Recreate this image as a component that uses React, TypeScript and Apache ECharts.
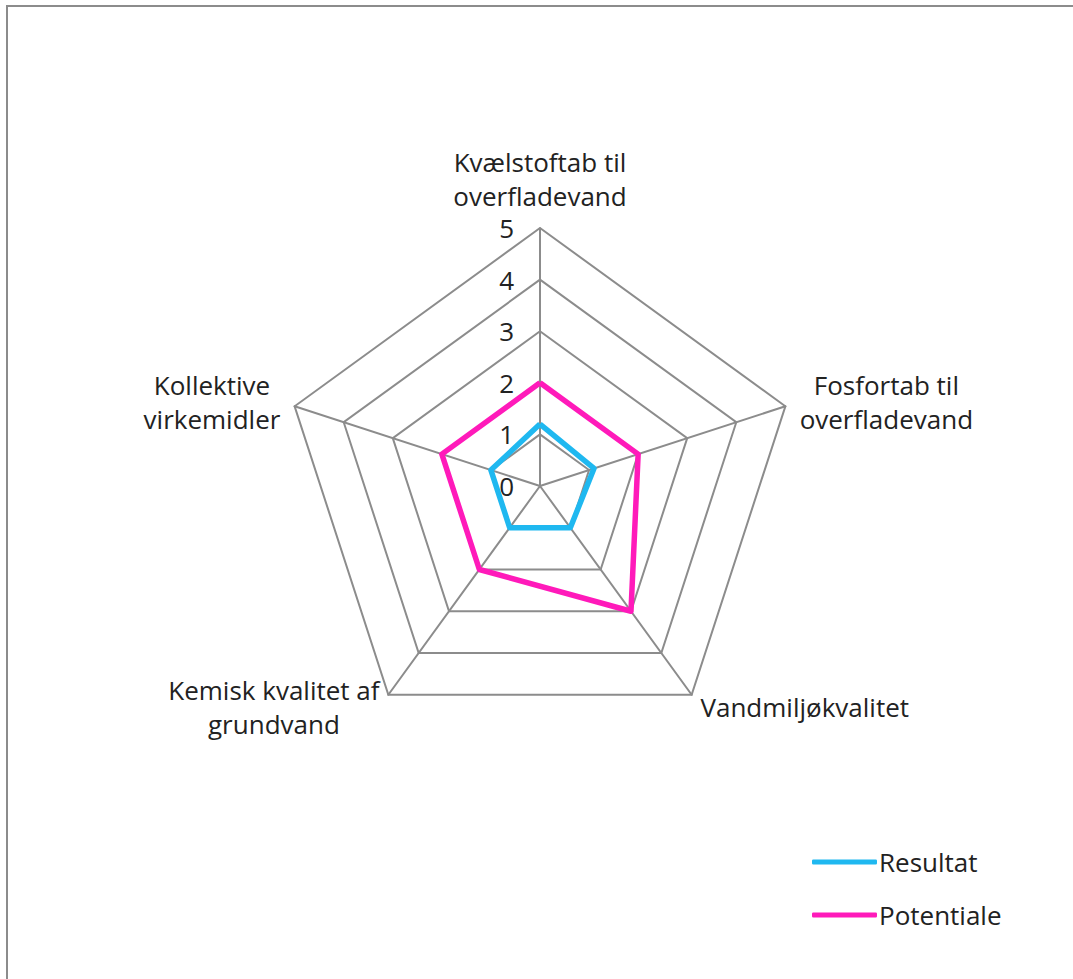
import React, { useEffect, useRef } from "react";
import * as echarts from "echarts";

// Categories in the reference's clockwise order, starting at the top
const categories = [
  "Kvælstoftab til\noverfladevand",
  "Fosfortab til\noverfladevand",
  "Vandmiljøkvalitet",
  "Kemisk kvalitet af\ngrundvand",
  "Kollektive\nvirkemidler",
];
const resultat = [1.2, 1.1, 1.0, 1.0, 1.0];
const potentiale = [2, 2, 3, 2, 2];
const seriesNames = ["Resultat", "Potentiale"];
const axisMax = 5;

// ECharts lays indicators out counter-clockwise; reorder to clockwise
const order = [0, 4, 3, 2, 1];
const reorder = (arr: any[]) => order.map((i) => arr[i]);

const FONT = "'Open Sans', 'Noto Sans', sans-serif";
const FS = 26;
const TXT = "#222";

export default function App() {
  const ref = useRef<HTMLDivElement>(null);
  useEffect(() => {
    if (!ref.current) return;
    const chart = echarts.init(ref.current, undefined, { renderer: "svg" });
    const indicator = reorder(categories).map((name: string, i: number) => {
      const ind: any = { name, min: 0, max: axisMax };
      if (i === 0) {
        ind.axisLabel = {
          show: true,
          margin: 26,
          fontSize: FS,
          lineHeight: 20,
          color: TXT,
          fontFamily: FONT,
        };
      }
      return ind;
    });
    chart.setOption({
      animation: false,
      color: ["#1FB8F0", "#FF1ABA"],
      textStyle: { fontFamily: FONT },
      legend: {
        orient: "vertical",
        left: 807,
        top: 844,
        itemWidth: 65,
        itemHeight: 5,
        itemGap: 27,
        icon: "roundRect",
        textStyle: { fontSize: FS, color: TXT, fontFamily: FONT, padding: [0, 0, 0, -3] },
        data: seriesNames,
      },
      radar: {
        center: [540, 486],
        radius: 258,
        startAngle: 90,
        splitNumber: 5,
        shape: "polygon",
        indicator,
        axisName: {
          color: TXT,
          fontSize: FS,
          fontFamily: FONT,
          formatter: (name: string) =>
            name
              .split("\n")
              .map((l) => `{c|${l}}`)
              .join("\n"),
          rich: {
            c: { align: "center", fontSize: FS, color: TXT, fontFamily: FONT, lineHeight: 34 },
          },
        },
        nameGap: 15,
        axisLine: { lineStyle: { color: "#8C8C8C", width: 2 } },
        splitLine: { lineStyle: { color: "#8C8C8C", width: 2 } },
        splitArea: { show: false },
        axisTick: { show: false },
        axisLabel: { show: false },
      },
      series: [
        {
          type: "radar",
          symbol: "none",
          data: [
            {
              name: seriesNames[0],
              value: reorder(resultat),
              lineStyle: { width: 5.5, color: "#1FB8F0" },
              itemStyle: { color: "#1FB8F0" },
            },
            {
              name: seriesNames[1],
              value: reorder(potentiale),
              lineStyle: { width: 5.5, color: "#FF1ABA" },
              itemStyle: { color: "#FF1ABA" },
            },
          ],
        },
      ],
    });
    return () => chart.dispose();
  }, []);

  return (
    <div
      style={{
        position: "absolute",
        left: 0,
        top: 0,
        width: 1073,
        height: 979,
        overflow: "hidden",
        background: "#fff",
      }}
    >
      <div
        style={{
          position: "absolute",
          left: 6,
          top: 5,
          width: 1100,
          height: 1000,
          borderLeft: "2px solid #8C8C8C",
          borderTop: "2px solid #8C8C8C",
        }}
      />
      <div ref={ref} style={{ position: "absolute", left: 0, top: 0, width: 1073, height: 979 }} />
    </div>
  );
}
